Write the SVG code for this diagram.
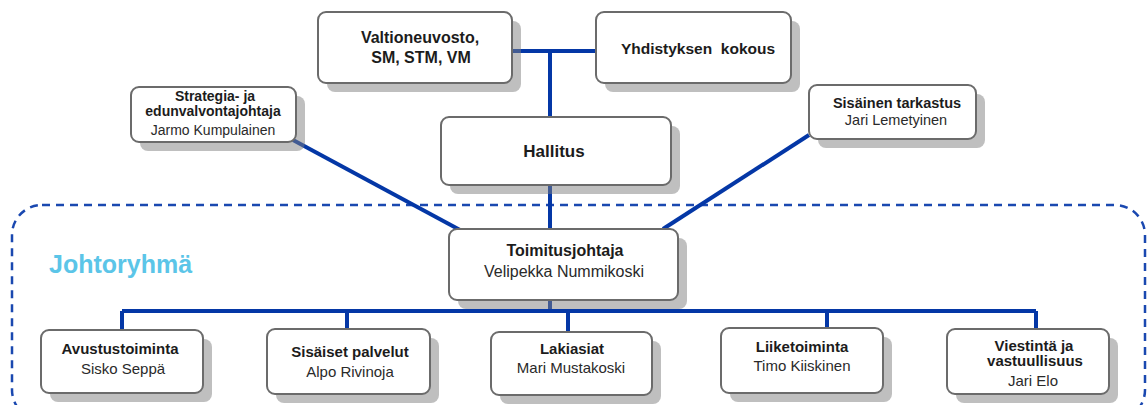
<svg xmlns="http://www.w3.org/2000/svg" width="1148" height="405" viewBox="0 0 1148 405">
<style>
.bg{fill:#ffffff}
.shadow{fill:#808080;fill-opacity:0.5}
.box{fill:#ffffff;stroke:#6b6b6b;stroke-width:2}
.con{stroke:#0437a6;stroke-width:4;fill:none}
.t{font-family:"Liberation Sans",Arial,sans-serif;font-weight:bold;fill:#1c1c1c;text-anchor:middle}
.n{font-family:"Liberation Sans",Arial,sans-serif;fill:#2a2a2a;text-anchor:middle}
</style>
<rect class="bg" x="0" y="0" width="1148" height="405"/>
<rect id="johtoryhma-frame" x="12" y="205" width="1133" height="215" rx="30" ry="30" fill="none" stroke="#1a48b0" stroke-width="2.5" stroke-dasharray="8 6"/>
<text x="49" y="273" font-family="Liberation Sans,Arial,sans-serif" font-weight="bold" font-size="25" fill="#5bc5e8">Johtoryhmä</text>
<g id="connectors">
<path class="con" d="M512 51H596M550 51V117M550 185V229M550 300V311M122 311H1036M122 311V330M347 311V329M568 311V332M827 311V328M1036 311V329"/>
<path class="con" d="M293 140L460 230"/>
<path class="con" d="M809 135L663 229"/>
</g>
<g id="valtioneuvosto">
<rect class="shadow" x="327" y="21" width="194" height="71" rx="8"/>
<rect class="box" x="318" y="12" width="194" height="71" rx="8"/>
<text class="t" x="420" y="43" font-size="16">Valtioneuvosto,</text>
<text class="t" x="421" y="63" font-size="16">SM, STM, VM</text>
</g>
<g id="yhdistyksen-kokous">
<rect class="shadow" x="605" y="21" width="195" height="71" rx="8"/>
<rect class="box" x="596" y="12" width="195" height="71" rx="8"/>
<text class="t" x="698" y="54" font-size="15.5" xml:space="preserve" style="white-space:pre">Yhdistyksen  kokous</text>
</g>
<g id="hallitus">
<rect class="shadow" x="450" y="126" width="230" height="68" rx="8"/>
<rect class="box" x="441" y="117" width="230" height="68" rx="8"/>
<text class="t" x="554" y="157" font-size="17">Hallitus</text>
</g>
<g id="strategia">
<rect class="shadow" x="140" y="96" width="165" height="55" rx="8"/>
<rect class="box" x="131" y="87" width="165" height="55" rx="8"/>
<text class="t" x="215" y="101" font-size="14">Strategia- ja</text>
<text class="t" x="213" y="116" font-size="14">edunvalvontajohtaja</text>
<text class="n" x="213" y="135" font-size="14">Jarmo Kumpulainen</text>
</g>
<g id="sisainen-tarkastus">
<rect class="shadow" x="818" y="94" width="167" height="54" rx="8"/>
<rect class="box" x="809" y="85" width="167" height="54" rx="8"/>
<text class="t" x="897" y="108" font-size="14.5">Sisäinen tarkastus</text>
<text class="n" x="896" y="125" font-size="14.5">Jari Lemetyinen</text>
</g>
<g id="toimitusjohtaja">
<rect class="shadow" x="458" y="238" width="229" height="71" rx="8"/>
<rect class="box" x="449" y="229" width="229" height="71" rx="8"/>
<text class="t" x="565" y="256" font-size="16">Toimitusjohtaja</text>
<text class="n" x="564" y="277" font-size="16">Velipekka Nummikoski</text>
</g>
<g id="avustustoiminta">
<rect class="shadow" x="50" y="339" width="162" height="63" rx="8"/>
<rect class="box" x="41" y="330" width="162" height="63" rx="8"/>
<text class="t" x="120" y="354" font-size="15">Avustustoiminta</text>
<text class="n" x="123" y="374" font-size="15">Sisko Seppä</text>
</g>
<g id="sisaiset-palvelut">
<rect class="shadow" x="276" y="338" width="163" height="65" rx="8"/>
<rect class="box" x="267" y="329" width="163" height="65" rx="8"/>
<text class="t" x="350" y="357" font-size="15">Sisäiset palvelut</text>
<text class="n" x="350" y="377" font-size="15">Alpo Rivinoja</text>
</g>
<g id="lakiasiat">
<rect class="shadow" x="500" y="341" width="161" height="63" rx="8"/>
<rect class="box" x="491" y="332" width="161" height="63" rx="8"/>
<text class="t" x="572" y="354" font-size="15">Lakiasiat</text>
<text class="n" x="571" y="373" font-size="15">Mari Mustakoski</text>
</g>
<g id="liiketoiminta">
<rect class="shadow" x="730" y="337" width="162" height="65" rx="8"/>
<rect class="box" x="721" y="328" width="162" height="65" rx="8"/>
<text class="t" x="802" y="352" font-size="15">Liiketoiminta</text>
<text class="n" x="802" y="371" font-size="15">Timo Kiiskinen</text>
</g>
<g id="viestinta">
<rect class="shadow" x="956" y="338" width="162" height="65" rx="8"/>
<rect class="box" x="947" y="329" width="162" height="65" rx="8"/>
<text class="t" x="1034" y="351" font-size="15">Viestintä ja</text>
<text class="t" x="1035" y="366" font-size="15">vastuullisuus</text>
<text class="n" x="1033" y="386" font-size="15">Jari Elo</text>
</g>
</svg>
